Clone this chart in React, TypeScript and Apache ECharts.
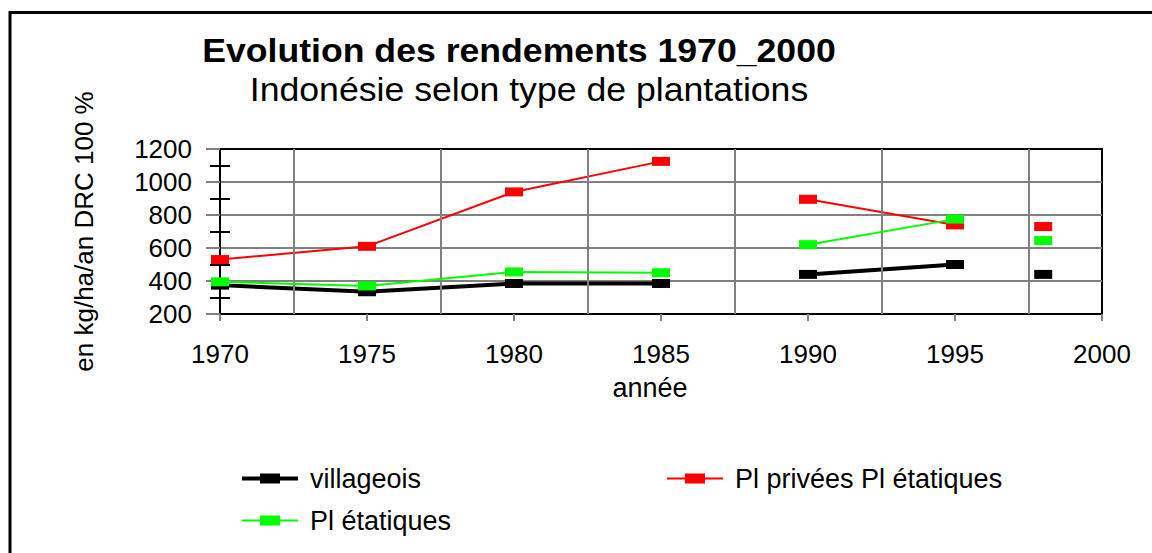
import React, { useEffect, useRef } from "react";
import * as echarts from "echarts";

const years = [1970, 1975, 1980, 1985, 1990, 1995, 1998];
const segmentStarts = [0, 4, 6];
const villageois = [375, 335, 385, 385, 440, 500, 440];
const privees = [530, 610, 940, 1125, 895, 740, 730];
const etatiques = [395, 370, 455, 450, 620, 775, 645];
const xTicks = [1970, 1975, 1980, 1985, 1990, 1995, 2000];
const yTicks = [200, 400, 600, 800, 1000, 1200];

const seriesNames = ["villageois", "Pl privées Pl étatiques", "Pl étatiques"];
const titleText = "Evolution des rendements 1970_2000";
const subtitleText = "Indonésie selon type de plantations";
const yName = "en kg/ha/an DRC 100 %";
const xName = "année";

const FONT = '"Liberation Sans", Arial, sans-serif';

function buildData(values: number[]) {
  const out: any[] = [];
  values.forEach((v, i) => {
    if (i > 0 && segmentStarts.includes(i)) {
      out.push([(years[i - 1] + years[i]) / 2, null]);
    }
    out.push([years[i], v]);
  });
  return out;
}

const gridX = xTicks.slice(0, -1).map((t, i) => (t + xTicks[i + 1]) / 2);

const thickIcon = "path://M0,3H19V7H0Z M18,0H38V10H18Z M37,3H56V7H37Z";
const thinIcon = "path://M0,4H19V6H0Z M18,0H38V10H18Z M37,4H56V6H37Z";

export default function App() {
  const ref = useRef<HTMLDivElement>(null);
  useEffect(() => {
    if (!ref.current) return;
    const chart = echarts.init(ref.current, undefined, { renderer: "svg" });
    const legendBase = {
      orient: "horizontal",
      padding: 0,
      itemWidth: 56,
      itemHeight: 10,
      itemStyle: { borderWidth: 0 },
      textStyle: { fontSize: 27, color: "#000", fontFamily: FONT, padding: [0, 0, 0, 7] },
      selectedMode: false,
    };
    const option: any = {
      animation: false,
      backgroundColor: "#fff",
      grid: {
        left: 220,
        right: 50,
        top: 149,
        bottom: 239,
        show: true,
        borderColor: "#000",
        borderWidth: 2,
        backgroundColor: "transparent",
        containLabel: false,
      },
      graphic: [
        {
          type: "rect",
          shape: { x: 10, y: 12.5, width: 1300, height: 700 },
          style: { fill: "none", stroke: "#000", lineWidth: 3 },
          silent: true,
        },
        {
          type: "text",
          x: 519,
          y: 50,
          scaleX: 1.08,
          style: {
            text: titleText,
            font: `bold 33px ${FONT}`,
            fill: "#000",
            textAlign: "center",
            textVerticalAlign: "middle",
          },
        },
        {
          type: "text",
          x: 529,
          y: 89,
          scaleX: 1.08,
          style: {
            text: subtitleText,
            font: `33px ${FONT}`,
            fill: "#000",
            textAlign: "center",
            textVerticalAlign: "middle",
          },
        },
      ],
      legend: [
        { ...legendBase, data: [seriesNames[0]], left: 242, top: 465, icon: thickIcon },
        { ...legendBase, data: [seriesNames[1]], left: 667, top: 465, icon: thinIcon },
        { ...legendBase, data: [seriesNames[2]], left: 242, top: 507, icon: thinIcon },
      ],
      xAxis: [
        {
          type: "value",
          min: xTicks[0],
          max: xTicks[xTicks.length - 1],
          interval: 5,
          name: xName,
          nameLocation: "middle",
          nameGap: 60,
          nameTextStyle: { fontSize: 27, color: "#000", fontFamily: FONT, padding: [0, 22, 0, 0] },
          axisLine: { show: true, onZero: false, lineStyle: { color: "#000", width: 2 } },
          axisTick: { show: true, length: 7, lineStyle: { color: "#808080", width: 2 } },
          axisLabel: {
            fontSize: 26,
            color: "#000",
            fontFamily: FONT,
            margin: 27,
            formatter: (v: number) => String(v),
          },
          splitLine: { show: false },
        },
      ],
      yAxis: [
        {
          type: "value",
          min: yTicks[0],
          max: yTicks[yTicks.length - 1],
          interval: 200,
          name: yName,
          nameLocation: "middle",
          nameGap: 123,
          nameTextStyle: { fontSize: 26, color: "#000", fontFamily: FONT },
          axisLine: { show: true, onZero: false, lineStyle: { color: "#000", width: 2 } },
          axisTick: { show: true, length: 14, lineStyle: { color: "#808080", width: 2 } },
          minorTick: { show: true, splitNumber: 2, length: 10, lineStyle: { color: "#000", width: 2 } },
          axisLabel: {
            fontSize: 26,
            color: "#000",
            fontFamily: FONT,
            margin: 28,
            formatter: (v: number) => String(v),
          },
          splitLine: {
            show: true,
            showMinLine: false,
            showMaxLine: false,
            lineStyle: { color: "#808080", width: 2 },
          },
        },
        {
          type: "value",
          min: yTicks[0],
          max: yTicks[yTicks.length - 1],
          interval: 200,
          position: "left",
          axisLine: { show: false, onZero: false },
          axisTick: { show: false, inside: true },
          minorTick: { show: true, splitNumber: 2, length: 10, lineStyle: { color: "#000", width: 2 } },
          axisLabel: { show: false },
          splitLine: { show: false },
        },
      ],
      series: [
        {
          type: "line",
          name: "__grid",
          data: [],
          z: 1,
          silent: true,
          markLine: {
            silent: true,
            symbol: ["none", "none"],
            label: { show: false },
            lineStyle: { color: "#808080", width: 2, type: "solid" },
            data: gridX.map((x) => ({ xAxis: x })),
          },
        },
        {
          type: "line",
          name: seriesNames[0],
          data: buildData(villageois),
          symbol: "rect",
          symbolSize: [18, 9],
          connectNulls: false,
          color: "#000",
          lineStyle: { color: "#000", width: 4 },
          itemStyle: { color: "#000" },
          z: 3,
        },
        {
          type: "line",
          name: seriesNames[1],
          data: buildData(privees),
          symbol: "rect",
          symbolSize: [18, 9],
          connectNulls: false,
          color: "#ff0000",
          lineStyle: { color: "#ff0000", width: 2 },
          itemStyle: { color: "#ff0000" },
          z: 4,
        },
        {
          type: "line",
          name: seriesNames[2],
          data: buildData(etatiques),
          symbol: "rect",
          symbolSize: [18, 9],
          connectNulls: false,
          color: "#00ff00",
          lineStyle: { color: "#00ff00", width: 2 },
          itemStyle: { color: "#00ff00" },
          z: 5,
        },
      ],
    };
    chart.setOption(option);
    return () => chart.dispose();
  }, []);
  return (
    <div
      ref={ref}
      style={{ position: "absolute", left: 0, top: 0, width: 1152, height: 553, background: "#fff" }}
    />
  );
}
